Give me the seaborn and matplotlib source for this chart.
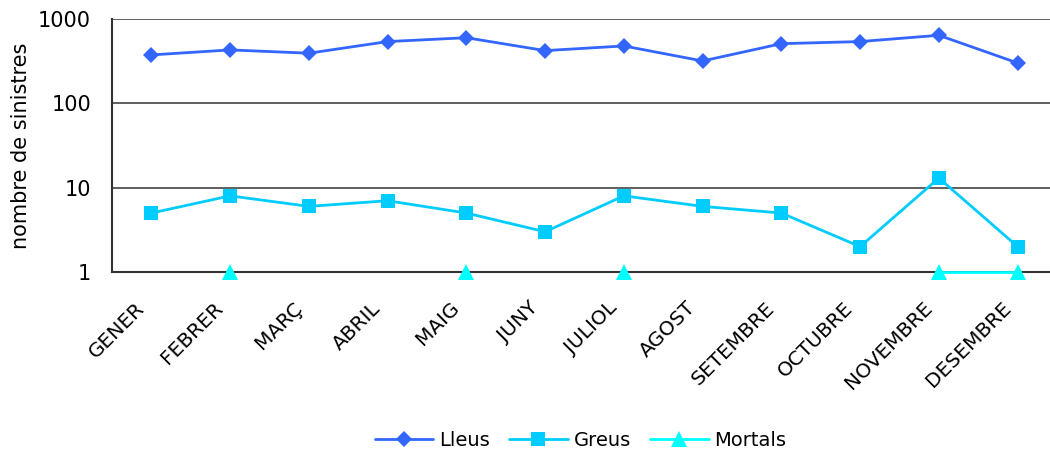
import numpy as np
import pandas as pd
import matplotlib
matplotlib.use("Agg")
import matplotlib.pyplot as plt
from matplotlib.lines import Line2D
from matplotlib.ticker import FixedLocator, NullFormatter
import seaborn as sns

months = ["GENER", "FEBRER", "MARÇ", "ABRIL", "MAIG", "JUNY", "JULIOL",
          "AGOST", "SETEMBRE", "OCTUBRE", "NOVEMBRE", "DESEMBRE"]
lleus = [375, 430, 393, 540, 600, 422, 479, 318, 510, 540, 641, 301]
greus = [5, 8, 6, 7, 5, 3, 8, 6, 5, 2, 13, 2]
mortals = [np.nan, 1, np.nan, np.nan, 1, np.nan, 1, np.nan, np.nan, np.nan, 1, 1]
y_ticks = [1, 10, 100, 1000]
series_names = ["Lleus", "Greus", "Mortals"]
colors = ["#3366FF", "#00CCFF", "#00FFFF"]
markers = ["D", "s", "^"]
msizes = [8, 10, 11]

sns.set_style("white")
plt.rcParams["font.family"] = ["DejaVu Sans"]
plt.rcParams["text.color"] = "black"
plt.rcParams["axes.labelcolor"] = "black"
plt.rcParams["xtick.color"] = "black"
plt.rcParams["ytick.color"] = "black"

fig = plt.figure(figsize=(10.5, 4.54), dpi=100)
ax = fig.add_axes([112/1050, 1 - 272/454, (1050 - 112)/1050, (272 - 19)/454])

x = np.arange(len(months))
for name, vals, c, m, ms in zip(series_names, [lleus, greus, mortals], colors, markers, msizes):
    v = np.array(vals, dtype=float)
    # split into contiguous runs so gaps stay gaps
    seg = np.cumsum(np.isnan(v))
    df = pd.DataFrame({"x": x, "y": v, "seg": seg}).dropna()
    sns.lineplot(data=df, x="x", y="y", units="seg", estimator=None, ax=ax,
                 color=c, linewidth=2, marker=m, markersize=ms,
                 markeredgecolor=c, markeredgewidth=0, clip_on=False, zorder=5,
                 legend=False)

ax.set_yscale("log")
ax.set_ylim(1, 1000)
ax.set_xlim(-0.5, 11.5 - 7/79)
ax.yaxis.set_major_locator(FixedLocator(y_ticks))
ax.yaxis.set_minor_locator(FixedLocator([]))
ax.set_yticklabels([str(t) for t in y_ticks], fontsize=15)
ax.yaxis.grid(True, which="major", color="#444444", linewidth=1.2)
ax.set_axisbelow(True)

# label anchors sit slightly left of each category centre, as in the original
ax.set_xticks(x - 0.21)
ax.set_xticklabels(months, rotation=45, ha="right", rotation_mode="anchor", fontsize=14.5)
ax.xaxis.set_minor_locator(FixedLocator(np.arange(-0.5, 12, 1)))
ax.xaxis.set_minor_formatter(NullFormatter())
ax.tick_params(axis="x", which="major", length=0, pad=19)
ax.tick_params(axis="x", which="minor", length=6, width=1, color="#333333", direction="out")
ax.tick_params(axis="y", which="major", length=6, width=1, color="#333333", direction="out", pad=9)

for s in ["top", "right"]:
    ax.spines[s].set_visible(False)
for s in ["left", "bottom"]:
    ax.spines[s].set_color("#333333")
    ax.spines[s].set_linewidth(1.5)

ax.set_xlabel("")
ax.set_ylabel("nombre de sinistres", fontsize=15, labelpad=5)

handles = [Line2D([0], [0], color=c, marker=m, markersize=ms, linewidth=2, markeredgewidth=0)
           for c, m, ms in zip(colors, markers, msizes)]
fig.legend(handles, series_names, loc="center", bbox_to_anchor=(0.553, 1 - 440/454),
           ncol=3, frameon=False, fontsize=14, handlelength=3.0, columnspacing=1.0,
           handletextpad=0.3)

fig.savefig("out.png", dpi=100)
